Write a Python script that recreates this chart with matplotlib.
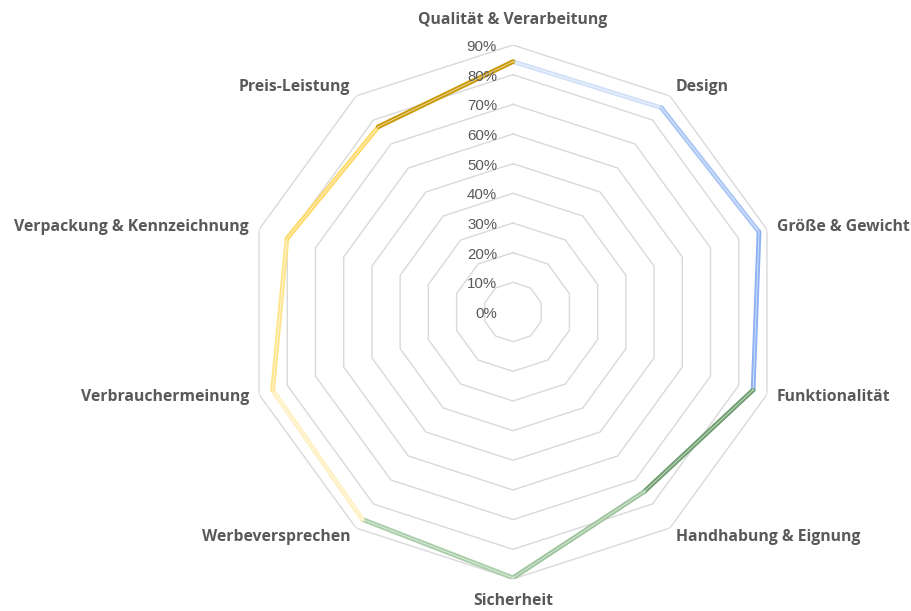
import numpy as np
import matplotlib
matplotlib.use("Agg")
import matplotlib.pyplot as plt

# categories clockwise from top
categories = ["Qualität & Verarbeitung", "Design", "Größe & Gewicht", "Funktionalität",
              "Handhabung & Eignung", "Sicherheit", "Werbeversprechen",
              "Verbrauchermeinung", "Verpackung & Kennzeichnung", "Preis-Leistung"]
values = [0.844, 0.851, 0.872, 0.851, 0.750, 0.896, 0.864, 0.852, 0.801, 0.772]
levels = [0.0, 0.1, 0.2, 0.3, 0.4, 0.5, 0.6, 0.7, 0.8, 0.9]
level_labels = ["0%", "10%", "20%", "30%", "40%", "50%", "60%", "70%", "80%", "90%"]
# colour of the segment leaving each category (towards the next one clockwise)
seg_colors = ["#D2E1F8", "#A9C5F5", "#8DB1F3", "#6E9E70", "#9EC49E",
              "#AACDAA", "#FFF0C0", "#FFE48C", "#FFD966", "#C99A06"]

n = len(categories)
theta = np.arange(n) * 2 * np.pi / n

fig = plt.figure(figsize=(9.12, 6.11), dpi=100)
ax = fig.add_axes([246 / 912, 32 / 611, 534 / 912, 534 / 611], projection="polar")
ax.set_theta_zero_location("N")
ax.set_theta_direction(-1)
ax.set_ylim(0, 0.9)
ax.grid(False)
ax.spines["polar"].set_visible(False)
ax.set_xticks([])
ax.set_yticks([])
ax.patch.set_alpha(0)

th_closed = np.append(theta, theta[0])
for lv in levels[1:]:
    ax.plot(th_closed, [lv] * (n + 1), color="#D9D9D9", lw=1.0, zorder=1)

for i in range(n):
    j = (i + 1) % n
    ax.plot([theta[i], theta[j]], [values[i], values[j]], color=seg_colors[i],
            lw=3.4, solid_capstyle="round", zorder=3)
    ax.plot([theta[i], theta[j]], [values[i], values[j]], color="white",
            lw=0.7, alpha=0.6, zorder=4)

for lv, lab in zip(levels, level_labels):
    ax.annotate(lab, xy=(0, lv), xytext=(-16, -2), textcoords="offset pixels",
                ha="right", va="center", fontsize=10.8, color="#595959",
                family="Liberation Sans", annotation_clip=False)

for t, name in zip(theta, categories):
    s, c = np.sin(t), np.cos(t)
    if abs(s) < 0.01:
        ha, dx = "center", 0
    else:
        ha = "left" if s > 0 else "right"
        dx = (10 if abs(s) > 0.9 else 6) * np.sign(s)
    if abs(c) > 0.99:
        dy = 25 if c > 0 else -22
    elif abs(c) > 0.5:
        dy = 9 * np.sign(c)
    else:
        dy = 2.5 * np.sign(c)
    ax.annotate(name, xy=(t, 0.9), xytext=(dx, dy), textcoords="offset pixels",
                ha=ha, va="center", fontsize=11.3, fontweight="bold",
                color="#595959", family="Open Sans", annotation_clip=False)

fig.savefig("out.png", dpi=100)
